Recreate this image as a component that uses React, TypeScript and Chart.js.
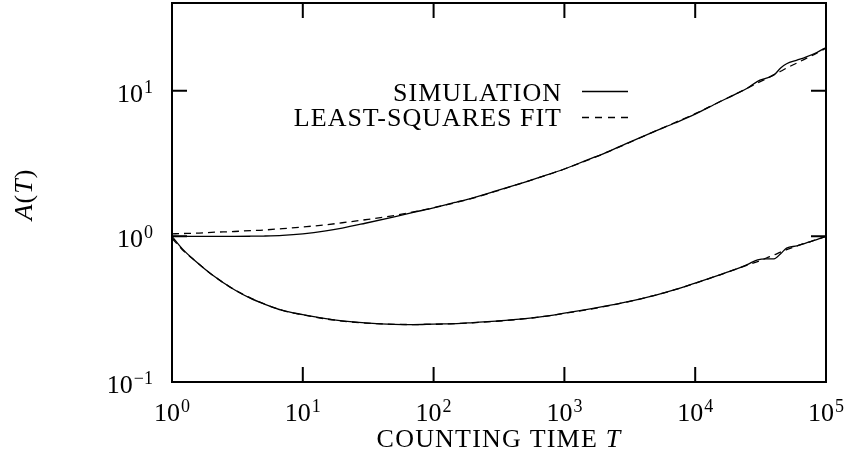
import React, { useEffect, useRef } from "react";
import { Chart, registerables } from "chart.js";

Chart.register(...registerables);

// Counting time T (shared x values)
const T_VALUES = [
  1, 1.2, 1.5, 2, 3, 4, 5, 7, 10, 15, 20, 30, 50, 70, 100, 150, 200, 300, 500, 700,
  1000, 1500, 2000, 3000, 5000, 7000, 10000, 15000, 20000, 25000, 30000, 35000,
  40000, 45000, 50000, 60000, 70000, 85000, 100000,
];

const UPPER_SIM = [
  1.0, 1.0, 1.0, 1.0, 1.0, 1.002, 1.005, 1.015, 1.04, 1.09, 1.14, 1.23, 1.36, 1.46,
  1.57, 1.72, 1.84, 2.05, 2.36, 2.6, 2.9, 3.35, 3.7, 4.35, 5.3, 6.0, 6.9, 8.3, 9.4,
  10.4, 11.6, 12.2, 12.8, 14.3, 15.3, 16.2, 17.0, 18.3, 19.8,
];

const UPPER_FIT = [
  1.04, 1.045, 1.05, 1.065, 1.08, 1.095, 1.105, 1.13, 1.16, 1.2, 1.24, 1.3, 1.39,
  1.47, 1.57, 1.71, 1.83, 2.04, 2.36, 2.6, 2.9, 3.33, 3.7, 4.33, 5.3, 6.05, 6.95,
  8.3, 9.4, 10.4, 11.3, 12.1, 12.9, 13.6, 14.3, 15.5, 16.6, 18.1, 19.6,
];

const LOWER_SIM = [
  1.0, 0.82, 0.68, 0.55, 0.43, 0.375, 0.345, 0.31, 0.29, 0.272, 0.263, 0.255, 0.249,
  0.248, 0.25, 0.252, 0.256, 0.262, 0.272, 0.282, 0.297, 0.315, 0.33, 0.355, 0.395,
  0.43, 0.478, 0.54, 0.59, 0.64, 0.69, 0.7, 0.7, 0.76, 0.83, 0.86, 0.9, 0.95, 1.0,
];

const LOWER_FIT = [
  0.97, 0.81, 0.68, 0.55, 0.43, 0.377, 0.345, 0.31, 0.289, 0.271, 0.262, 0.254,
  0.249, 0.248, 0.249, 0.252, 0.255, 0.261, 0.272, 0.282, 0.296, 0.314, 0.329,
  0.354, 0.395, 0.43, 0.476, 0.54, 0.59, 0.635, 0.67, 0.71, 0.745, 0.78, 0.81,
  0.86, 0.9, 0.95, 1.0,
];

const X_TICK_EXPONENTS = [0, 1, 2, 3, 4, 5];
const Y_TICK_EXPONENTS = [-1, 0, 1];
const LEGEND_LABELS = ["SIMULATION", "LEAST-SQUARES FIT"];
const X_TITLE = "COUNTING TIME ";
const X_TITLE_VAR = "T";

const FONT = '"Liberation Serif", "Times New Roman", serif';

function zip(xs: number[], ys: number[]) {
  return xs.map((x, i) => ({ x, y: ys[i] }));
}

function drawPow(ctx: CanvasRenderingContext2D, exp: number, x: number, baseline: number, mode: "center" | "right") {
  const main = "10";
  const sup = exp < 0 ? "\u2212" + Math.abs(exp) : String(exp);
  ctx.font = `26px ${FONT}`;
  const w1 = ctx.measureText(main).width;
  ctx.font = `18px ${FONT}`;
  const w2 = ctx.measureText(sup).width;
  const total = w1 + w2 + 1;
  const start = mode === "center" ? x - total / 2 : x - total;
  ctx.textAlign = "left";
  ctx.textBaseline = "alphabetic";
  ctx.font = `26px ${FONT}`;
  ctx.fillText(main, start, baseline);
  ctx.font = `18px ${FONT}`;
  ctx.fillText(sup, start + w1 + 1, baseline - 9);
}

const framePlugin = {
  id: "frameAndLabels",
  afterDraw(chart: any) {
    const ctx: CanvasRenderingContext2D = chart.ctx;
    const ca = chart.chartArea;
    const xs = chart.scales.x;
    const ys = chart.scales.y;
    ctx.save();
    ctx.strokeStyle = "#000";
    ctx.fillStyle = "#000";
    ctx.lineWidth = 2;
    ctx.setLineDash([]);
    ctx.strokeRect(ca.left, ca.top, ca.right - ca.left, ca.bottom - ca.top);

    const TL = 15;
    ctx.beginPath();
    X_TICK_EXPONENTS.forEach((e) => {
      const px = xs.getPixelForValue(Math.pow(10, e));
      ctx.moveTo(px, ca.bottom);
      ctx.lineTo(px, ca.bottom - TL);
      ctx.moveTo(px, ca.top);
      ctx.lineTo(px, ca.top + TL);
    });
    Y_TICK_EXPONENTS.forEach((e) => {
      const py = ys.getPixelForValue(Math.pow(10, e));
      ctx.moveTo(ca.left, py);
      ctx.lineTo(ca.left + TL, py);
      ctx.moveTo(ca.right, py);
      ctx.lineTo(ca.right - TL, py);
    });
    ctx.stroke();

    // tick labels
    X_TICK_EXPONENTS.forEach((e) => {
      const px = xs.getPixelForValue(Math.pow(10, e));
      drawPow(ctx, e, px, ca.bottom + 39, "center");
    });
    Y_TICK_EXPONENTS.forEach((e) => {
      const py = ys.getPixelForValue(Math.pow(10, e));
      drawPow(ctx, e, ca.left - 19, py + 11, "right");
    });

    // x title
    (ctx as any).letterSpacing = "1.2px";
    ctx.font = `26px ${FONT}`;
    const wA = ctx.measureText(X_TITLE).width;
    ctx.font = `italic 26px ${FONT}`;
    const wB = ctx.measureText(X_TITLE_VAR).width;
    const cx = (ca.left + ca.right) / 2;
    const sx = cx - (wA + wB) / 2;
    ctx.textAlign = "left";
    ctx.font = `26px ${FONT}`;
    ctx.fillText(X_TITLE, sx, 447);
    ctx.font = `italic 26px ${FONT}`;
    ctx.fillText(X_TITLE_VAR, sx + wA, 447);

    // y title A(T), rotated
    (ctx as any).letterSpacing = "0px";
    const parts: [string, boolean][] = [["A", true], ["(", false], ["T", true], [")", false]];
    let tw = 0;
    parts.forEach(([s, it]) => {
      ctx.font = `${it ? "italic " : ""}26px ${FONT}`;
      tw += ctx.measureText(s).width + 1;
    });
    ctx.save();
    ctx.translate(32, (ca.top + ca.bottom) / 2 + 2);
    ctx.rotate(-Math.PI / 2);
    let ox = -tw / 2;
    parts.forEach(([s, it]) => {
      ctx.font = `${it ? "italic " : ""}26px ${FONT}`;
      ctx.fillText(s, ox, 0);
      ox += ctx.measureText(s).width + 1;
    });
    ctx.restore();

    // legend
    (ctx as any).letterSpacing = "1px";
    ctx.font = `26px ${FONT}`;
    ctx.textAlign = "right";
    ctx.fillText(LEGEND_LABELS[0], 562, 101);
    ctx.fillText(LEGEND_LABELS[1], 562, 126);
    (ctx as any).letterSpacing = "0px";
    ctx.lineWidth = 1.3;
    ctx.beginPath();
    ctx.moveTo(582, 91.5);
    ctx.lineTo(628, 91.5);
    ctx.stroke();
    ctx.setLineDash([7, 6]);
    ctx.beginPath();
    ctx.moveTo(582, 117.5);
    ctx.lineTo(628, 117.5);
    ctx.stroke();
    ctx.restore();
  },
};

export default function App() {
  const ref = useRef<HTMLCanvasElement | null>(null);
  useEffect(() => {
    document.body.style.margin = "0";
    document.body.style.background = "#fff";
    const canvas = ref.current;
    if (!canvas) return;
    const common = {
      borderColor: "#000",
      borderWidth: 1.3,
      pointRadius: 0,
      fill: false,
      cubicInterpolationMode: "monotone" as const,
    };
    const chart = new Chart(canvas, {
      type: "line",
      data: {
        datasets: [
          { ...common, label: "SIMULATION", data: zip(T_VALUES, UPPER_SIM) },
          { ...common, label: "LEAST-SQUARES FIT", data: zip(T_VALUES, UPPER_FIT), borderDash: [7, 5] },
          { ...common, label: "SIMULATION (lower)", data: zip(T_VALUES, LOWER_SIM) },
          { ...common, label: "LEAST-SQUARES FIT (lower)", data: zip(T_VALUES, LOWER_FIT), borderDash: [7, 5] },
        ],
      },
      options: {
        responsive: false,
        animation: false,
        events: [],
        layout: { padding: { top: 3, right: 19, left: 0, bottom: 0 } },
        plugins: { legend: { display: false }, tooltip: { enabled: false }, title: { display: false } },
        scales: {
          x: {
            type: "logarithmic",
            min: 1,
            max: 100000,
            grid: { display: false },
            border: { display: false },
            ticks: { display: false },
            afterFit: (s: any) => {
              s.height = 72;
            },
          },
          y: {
            type: "logarithmic",
            min: 0.1,
            max: 40,
            grid: { display: false },
            border: { display: false },
            ticks: { display: false },
            afterFit: (s: any) => {
              s.width = 172;
            },
          },
        },
      },
      plugins: [framePlugin],
    });
    return () => chart.destroy();
  }, []);
  return (
    <div style={{ width: 845, height: 454, background: "#fff" }}>
      <canvas ref={ref} width={845} height={454} style={{ width: 845, height: 454, display: "block" }} />
    </div>
  );
}
